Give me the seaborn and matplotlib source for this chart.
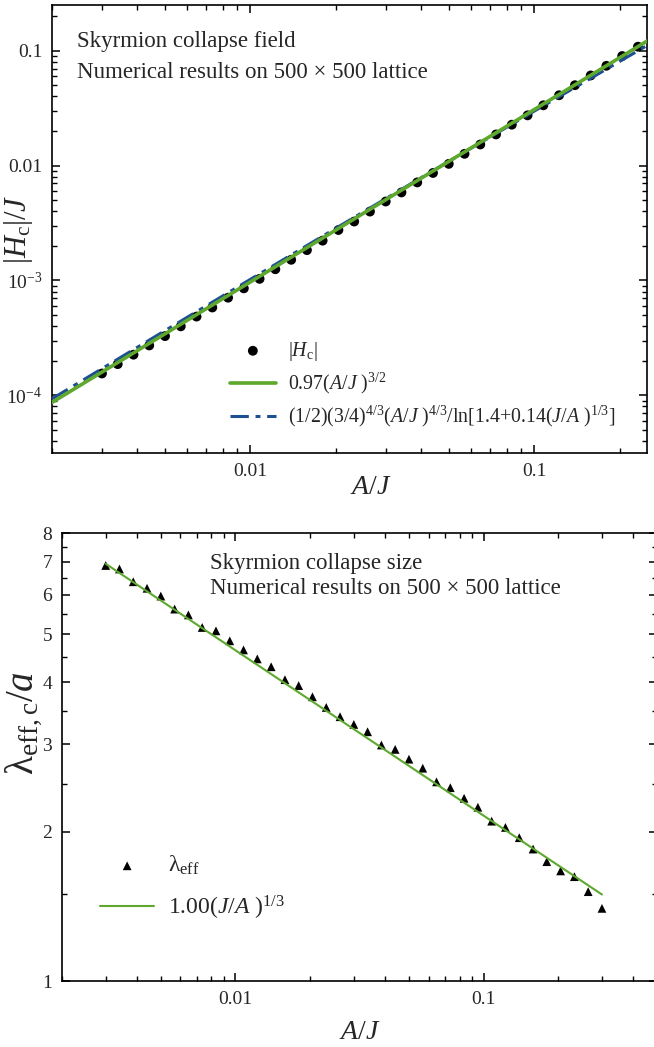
import matplotlib
matplotlib.use('Agg')
import matplotlib.pyplot as plt
import matplotlib.ticker as mticker
import pandas as pd
import seaborn as sns

green = '#5ea82e'
blue = '#1d4f93'

# A/J values of the simulations (same grid in both panels)
aj = [0.003, 0.003409, 0.003875, 0.004403, 0.005004, 0.005687, 0.006463, 0.007345,
      0.008348, 0.009487, 0.01078, 0.01225, 0.01393, 0.01583, 0.01798, 0.02044,
      0.02323, 0.0264, 0.03, 0.03409, 0.03875, 0.04403, 0.05004, 0.05687, 0.06463,
      0.07345, 0.08348, 0.09487, 0.1078, 0.1225, 0.1393, 0.1583, 0.1798, 0.2044,
      0.2323, 0.264, 0.3]

# collapse field |H_c|/J (first 35 A/J values)
hc = [1.55e-4, 1.87e-4, 2.26e-4, 2.72e-4, 3.28e-4, 3.99e-4, 4.85e-4, 5.82e-4,
      7.08e-4, 8.54e-4, 1.033e-3, 1.253e-3, 1.514e-3, 1.838e-3, 2.222e-3, 2.75e-3,
      3.26e-3, 3.98e-3, 4.87e-3, 5.84e-3, 7.14e-3, 8.63e-3, 1.035e-2, 1.266e-2,
      1.527e-2, 1.867e-2, 2.27e-2, 2.738e-2, 3.349e-2, 4.096e-2, 5.01e-2, 6.09e-2,
      7.39e-2, 8.99e-2, 0.1084]

# collapse size lambda_eff,c / a
lam = [6.88, 6.77, 6.38, 6.19, 5.97, 5.62, 5.47, 5.16, 5.08, 4.85, 4.65, 4.46,
       4.30, 4.05, 3.94, 3.74, 3.56, 3.41, 3.29, 3.18, 2.99, 2.93, 2.80, 2.685,
       2.52, 2.453, 2.335, 2.24, 2.10, 2.04, 1.945, 1.845, 1.74, 1.667, 1.623,
       1.514, 1.401]

# fit curves
fit_x = [0.002, 0.25]
fit_y = [8.68e-5, 0.1213]
theo_x = [0.002, 0.003, 0.005, 0.01, 0.02, 0.05, 0.1, 0.25]
theo_y = [9.33e-5, 1.708e-4, 3.657e-4, 1.0225e-3, 2.845e-3, 1.088e-2, 2.975e-2, 0.1109]
size_fit_x = [0.003, 0.3]
size_fit_y = [6.934, 1.494]

sns.set_style('ticks')
plt.rcParams['font.family'] = ['Liberation Serif', 'DejaVu Serif']
plt.rcParams['mathtext.fontset'] = 'custom'
plt.rcParams['mathtext.rm'] = 'Liberation Serif'
plt.rcParams['mathtext.it'] = 'Liberation Serif:italic'
plt.rcParams['mathtext.bf'] = 'Liberation Serif:bold'


def style_axes(ax):
    for s in ax.spines.values():
        s.set_linewidth(1.2)
        s.set_color('black')
    ax.tick_params(which='both', direction='in', top=True, right=True,
                   color='black', labelsize=14, pad=7)
    ax.tick_params(which='major', length=6, width=1.1)
    ax.tick_params(which='minor', length=3.5, width=1.0)


fig = plt.figure(figsize=(6.54, 10.47), dpi=100)

# ---------- top panel: collapse field ----------
ax1 = fig.add_axes([52 / 654, 1 - 453 / 1047, 595 / 654, 448 / 1047])
field = pd.DataFrame({'aj': aj[:len(hc)], 'hc': hc})
sns.scatterplot(data=field, x='aj', y='hc', ax=ax1, color='black', s=50,
                edgecolor='none', label=r'$|H_{\rm c}|$', zorder=2)
sns.lineplot(x=theo_x, y=theo_y, ax=ax1, color=blue, lw=2.2, estimator=None,
             sort=False, dashes=False, linestyle=(0, (6, 2.2, 1.6, 2.2)),
             label=r'(1/2)(3/4)$^{4/3}$($A/J$ )$^{4/3}$/ln[1.4+0.14($J/A$ )$^{1/3}$]',
             zorder=3)
sns.lineplot(x=fit_x, y=fit_y, ax=ax1, color=green, lw=2.6, estimator=None,
             sort=False, label=r'0.97($A/J$ )$^{3/2}$', zorder=4)
ax1.set_xscale('log')
ax1.set_yscale('log')
ax1.set_xlim(0.002, 0.25)
ax1.set_ylim(3.15e-5, 0.25)
ax1.xaxis.set_major_locator(mticker.FixedLocator([0.01, 0.1]))
ax1.xaxis.set_major_formatter(mticker.FixedFormatter(['0.01', '0.1']))
ax1.xaxis.set_minor_locator(mticker.LogLocator(base=10, subs=range(2, 10)))
ax1.xaxis.set_minor_formatter(mticker.NullFormatter())
ax1.yaxis.set_major_locator(mticker.FixedLocator([1e-4, 1e-3, 1e-2, 1e-1]))
ax1.yaxis.set_major_formatter(mticker.FixedFormatter([r'$10^{-4}$', r'$10^{-3}$', '0.01', '0.1']))
ax1.yaxis.set_minor_locator(mticker.LogLocator(base=10, subs=range(2, 10)))
ax1.yaxis.set_minor_formatter(mticker.NullFormatter())
style_axes(ax1)
ax1.set_xlabel(r'$A/J$', fontsize=20)
ax1.set_ylabel(r'$|H_{\rm c}|/J$', fontsize=22)
ax1.xaxis.set_label_coords(0.535, -0.048)
ax1.yaxis.set_label_coords(-0.028, 0.5)
ax1.text(25 / 595, 1 - 36 / 448, 'Skyrmion collapse field', transform=ax1.transAxes,
         fontsize=16.5, va='center', ha='left')
ax1.text(25 / 595, 1 - 68 / 448, 'Numerical results on 500 \u00d7 500 lattice',
         transform=ax1.transAxes, fontsize=16.5, va='center', ha='left')
h, l = ax1.get_legend_handles_labels()
order = [0, 2, 1]
ax1.legend([h[i] for i in order], [l[i] for i in order], loc='upper left',
           bbox_to_anchor=((230 - 52) / 595, 1 - (340 - 5) / 448), frameon=False,
           fontsize=14.3, handlelength=2.3, handletextpad=0.6, labelspacing=0.4,
           borderpad=0, borderaxespad=0)

# ---------- bottom panel: collapse size ----------
ax2 = fig.add_axes([62 / 654, 1 - 981 / 1047, 595 / 654, 448 / 1047])
size = pd.DataFrame({'aj': aj, 'lam': lam})
sns.scatterplot(data=size, x='aj', y='lam', ax=ax2, color='black', marker='^',
                s=40, edgecolor='none', label='\u03bb$_{\\rm eff}$', zorder=2)
sns.lineplot(x=size_fit_x, y=size_fit_y, ax=ax2, color=green, lw=1.5,
             estimator=None, sort=False, label=r'1.00($J/A$ )$^{1/3}$', zorder=3)
ax2.set_xscale('log')
ax2.set_yscale('log')
ax2.set_xlim(0.002, 0.5)
ax2.set_ylim(1, 8)
ax2.xaxis.set_major_locator(mticker.FixedLocator([0.01, 0.1]))
ax2.xaxis.set_major_formatter(mticker.FixedFormatter(['0.01', '0.1']))
ax2.xaxis.set_minor_locator(mticker.LogLocator(base=10, subs=range(2, 10)))
ax2.xaxis.set_minor_formatter(mticker.NullFormatter())
ax2.yaxis.set_major_locator(mticker.FixedLocator([1, 2, 3, 4, 5, 6, 7, 8]))
ax2.yaxis.set_major_formatter(mticker.FixedFormatter(['1', '2', '3', '4', '5', '6', '7', '8']))
ax2.yaxis.set_minor_locator(mticker.FixedLocator([1.5, 2.5, 3.5, 4.5, 5.5, 6.5, 7.5]))
ax2.yaxis.set_minor_formatter(mticker.NullFormatter())
style_axes(ax2)
ax2.set_xlabel(r'$A/J$', fontsize=20)
ax2.set_ylabel('\u03bb$_{\\rm eff,c}$/$a$', fontsize=28)
ax2.xaxis.set_label_coords(0.5, -0.088)
ax2.yaxis.set_label_coords(-0.03, 0.575)
ax2.text((210 - 62) / 595, 1 - (563 - 533) / 448, 'Skyrmion collapse size',
         transform=ax2.transAxes, fontsize=16.5, va='center', ha='left')
ax2.text((210 - 62) / 595, 1 - (589 - 533) / 448, 'Numerical results on 500 \u00d7 500 lattice',
         transform=ax2.transAxes, fontsize=16.5, va='center', ha='left')
ax2.legend(loc='upper left', bbox_to_anchor=((100 - 62) / 595, 1 - (854 - 533) / 448),
           frameon=False, fontsize=17, handlelength=2.3, handletextpad=0.6,
           labelspacing=0.7, borderpad=0, borderaxespad=0)

fig.savefig('out.png', dpi=100)
